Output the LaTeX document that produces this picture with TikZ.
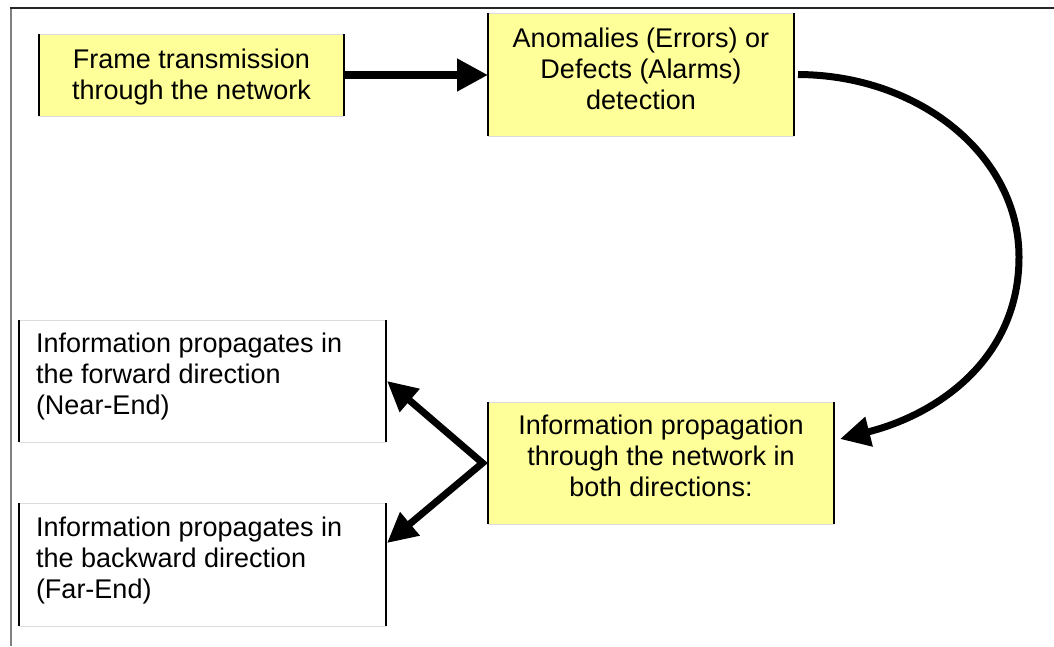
\documentclass[tikz,border=0pt]{standalone}
\usepackage{fontspec}
\setmainfont{Liberation Sans}
\usetikzlibrary{arrows.meta}
\definecolor{boxyellow}{HTML}{FFFF99}
\definecolor{edgegray}{HTML}{DCDCDC}
\begin{document}
\begin{tikzpicture}[x=1pt,y=-1pt,
  ybox/.style={inner sep=0pt, outer sep=0pt, fill=boxyellow},
  wbox/.style={inner sep=0pt, outer sep=0pt, fill=white},
  txt/.style={font=\fontsize{27}{31}\selectfont, inner sep=0pt, outer sep=0pt},
  hline/.style={line width=1pt, draw=edgegray},
  vline/.style={line width=1.5pt, draw=black},
  bigtip/.style={line width=7.5pt, -{Triangle[length=31pt,width=31pt]}},
  midtip/.style={line width=7pt, -{Triangle[length=30pt,width=29pt]}},
  tiptip/.style={line width=7pt, line join=miter,
    {Triangle[length=30pt,width=29pt]}-{Triangle[length=30pt,width=29pt]}}
]
\useasboundingbox (0,0) rectangle (1054,646);
\fill[white] (0,0) rectangle (1054,646);
% frame
\draw[line width=1.5pt, draw=gray] (11,8) -- (11,646);
\draw[line width=1.2pt, draw=black!85] (10.25,8) -- (1054,8);

% boxes
\node[ybox, minimum width=305pt, minimum height=82pt] (b1) at (191.5,75) {};
\node[ybox, minimum width=306pt, minimum height=123pt] (b2) at (641,74.5) {};
\node[ybox, minimum width=346pt, minimum height=122pt] (b3) at (661,463) {};
\node[wbox, minimum width=367pt, minimum height=122pt] (b4) at (202.5,381) {};
\node[wbox, minimum width=367pt, minimum height=123pt] (b5) at (202.5,564.5) {};
\foreach \n in {b1,b2,b3,b4,b5} {
  \draw[hline] (\n.north west) -- (\n.north east) (\n.south west) -- (\n.south east);
  \draw[vline] (\n.north west) -- (\n.south west) (\n.north east) -- (\n.south east);
}

% texts
\node[txt, align=center] (t1) at ([yshift=-1.7pt]b1.center) {Frame transmission\\through the network};
\node[txt, align=center] (t2) at ([yshift=5.5pt]b2.center) {Anomalies (Errors) or\\Defects (Alarms)\\detection};
\node[txt, align=center] (t3) at ([yshift=7pt]b3.center) {Information propagation\\through the network in\\both directions:};
\node[txt, align=left, anchor=west] (t4) at ([yshift=4.5pt]b4.west -| 36,0) {Information propagates in\\the forward direction\\(Near-End)};
\node[txt, align=left, anchor=west] (t5) at ([yshift=4pt]b5.west -| 36,0) {Information propagates in\\the backward direction\\(Far-End)};

% connectors
\draw[bigtip] (b1.east) -- (b1.east -| b2.west);
\draw[midtip] ([xshift=4pt]b2.east) .. controls (920,75) and (1019,156) .. (1019,257)
  .. controls (1019,358) and (939,414) .. ([xshift=6pt,yshift=24pt]b3.east);
\draw[tiptip] ([xshift=1pt]b4.east) -- ([xshift=-5.5pt]b3.west) -- ([xshift=1pt,yshift=21.5pt]b5.east);
\end{tikzpicture}
\end{document}
